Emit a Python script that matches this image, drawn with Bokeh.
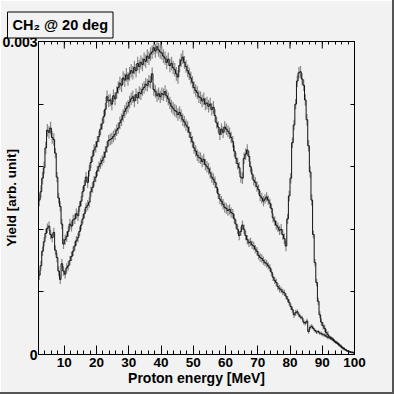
import numpy as np
from bokeh.plotting import figure
from bokeh.models import LinearAxis, FixedTicker
from bokeh.embed import file_html
from bokeh.resources import INLINE

# ---------------- data (yield in units of 1e-6, 0.5 MeV bins from 2 to 100 MeV) -------------
bin_lo = 2.0
bin_width = 0.5

upper_yield = [
    1480, 1560, 1690, 1790, 1980, 2150, 2130, 2170, 2080, 2060,   #  2 -  7
    1930, 1700, 1500, 1420, 1250, 1060, 1100, 1130, 1180, 1250,   #  7 - 12
    1230, 1290, 1300, 1350, 1330, 1420, 1470, 1560, 1620, 1700,   # 12 - 17
    1650, 1760, 1840, 1900, 1960, 1990, 2040, 2090, 2160, 2210,   # 17 - 22
    2280, 2350, 2470, 2430, 2440, 2400, 2480, 2450, 2510, 2560,   # 22 - 27
    2600, 2580, 2650, 2630, 2680, 2640, 2690, 2720, 2700, 2750,   # 27 - 32
    2720, 2790, 2760, 2800, 2780, 2830, 2810, 2860, 2840, 2880,   # 32 - 37
    2900, 2940, 2910, 2950, 2920, 2900, 2890, 2860, 2840, 2800,   # 37 - 42
    2830, 2770, 2790, 2750, 2730, 2690, 2660, 2770, 2820, 2850,   # 42 - 47
    2800, 2760, 2720, 2690, 2650, 2610, 2560, 2530, 2510, 2470,   # 47 - 52
    2460, 2430, 2450, 2400, 2410, 2380, 2400, 2350, 2370, 2290,   # 52 - 57
    2220, 2180, 2110, 2160, 2130, 2180, 2160, 2140, 2120, 2080,   # 57 - 62
    2040, 1950, 1880, 1830, 1790, 1700, 1690, 1880, 1920, 1960,   # 62 - 67
    1900, 1800, 1730, 1670, 1650, 1610, 1580, 1520, 1500, 1470,   # 67 - 72
    1490, 1510, 1480, 1450, 1400, 1310, 1280, 1240, 1220, 1190,   # 72 - 77
    1200, 1150, 1110, 1040, 1300, 1520, 1690, 2030, 2200, 2400,   # 77 - 82
    2620, 2700, 2710, 2640, 2580, 2440, 2250, 2000, 1750, 1480,   # 82 - 87
    1150, 880, 690, 510, 380, 310, 275, 250, 210, 190,            # 87 - 92
    170, 160, 150, 130, 120, 110, 95, 80, 65, 55,                 # 92 - 97
    45, 35, 30, 25, 22, 20,                                       # 97 - 100
]

lower_yield = [
    760, 850, 990, 1080, 1160, 1210, 1230, 1150, 1120, 1170,
    1000, 930, 800, 720, 870, 800, 770, 830, 850, 900,
    940, 990, 1040, 1090, 1120, 1180, 1240, 1300, 1350, 1410,
    1430, 1460, 1560, 1600, 1660, 1700, 1760, 1800, 1830, 1860,
    1890, 1940, 1990, 2050, 2060, 2070, 2090, 2110, 2150, 2170,
    2220, 2250, 2290, 2330, 2360, 2380, 2420, 2450, 2470, 2430,
    2490, 2460, 2510, 2500, 2540, 2560, 2590, 2580, 2620, 2610,
    2690, 2540, 2520, 2480, 2500, 2470, 2500, 2490, 2520, 2480,
    2450, 2410, 2380, 2360, 2340, 2330, 2300, 2320, 2290, 2250,
    2230, 2200, 2180, 2130, 2080, 2040, 1980, 1950, 1910, 1890,
    1880, 1850, 1870, 1820, 1800, 1780, 1740, 1700, 1680, 1650,
    1600, 1540, 1490, 1470, 1440, 1410, 1400, 1380, 1390, 1360,
    1350, 1300, 1250, 1200, 1140, 1180, 1240, 1200, 1140, 1100,
    1070, 1080, 1050, 1040, 1010, 990, 950, 930, 920, 900,
    880, 870, 850, 830, 790, 740, 710, 690, 650, 630,
    620, 600, 590, 560, 530, 500, 460, 430, 380, 400,
    410, 380, 360, 350, 310, 300, 320, 220, 260, 270,
    250, 230, 215, 220, 205, 200, 190, 185, 175, 165,
    160, 150, 140, 130, 115, 105, 90, 80, 65, 55,
    45, 35, 28, 22, 18, 15,
]

# statistical error estimate per 5 MeV block (same units)
upper_err_block = [60, 50, 50, 55, 60, 65, 65, 65, 65, 60, 60, 55, 55, 50, 45, 50, 55, 35, 15, 8]
lower_err_block = [45, 45, 45, 50, 55, 60, 60, 60, 60, 55, 55, 50, 45, 40, 35, 30, 22, 18, 14, 8]

x_ticks = [10, 20, 30, 40, 50, 60, 70, 80, 90, 100]
x_tick_labels = ["10", "20", "30", "40", "50", "60", "70", "80", "90", "100"]
x_minor_ticks = [2, 4, 6, 8, 12, 14, 16, 18, 22, 24, 26, 28, 32, 34, 36, 38, 42, 44, 46, 48,
                 52, 54, 56, 58, 62, 64, 66, 68, 72, 74, 76, 78, 82, 84, 86, 88, 92, 94, 96, 98]
y_label_ticks = [0.0, 0.003]
y_tick_labels = ["0", "0.003"]
y_other_ticks = [0.0006, 0.0012, 0.0018, 0.0024]

title_text = "CH\u2082 @ 20 deg"
x_title = "Proton energy [MeV]"
y_title = "Yield [arb. unit]"

assert len(upper_yield) == len(lower_yield) == 196

# ---------------- derived arrays ----------------
n = len(upper_yield)
edges = bin_lo + bin_width * np.arange(n + 1)
centers = bin_lo + bin_width * (np.arange(n) + 0.5)
U = np.array(upper_yield, dtype=float) * 1e-6
L = np.array(lower_yield, dtype=float) * 1e-6
eU = np.array([upper_err_block[i // 10] for i in range(n)], dtype=float) * 1e-6
eL = np.array([lower_err_block[i // 10] for i in range(n)], dtype=float) * 1e-6


def stairs(vals):
    xs = np.repeat(edges, 2)[1:-1]
    ys = np.repeat(vals, 2)
    return xs, ys


# ---------------- figure ----------------
FL, FR, FT, FB = 38, 354, 41, 354
XMIN, XMAX, YMIN, YMAX = 2.0, 100.0, 0.0, 0.003
FONT = "Liberation Sans"

p = figure(width=394, height=394, x_range=(XMIN, XMAX), y_range=(YMIN, YMAX),
           x_axis_location=None, y_axis_location=None, toolbar_location=None,
           output_backend="svg", title=title_text,
           min_border_left=FL, min_border_right=394 - FR,
           min_border_top=FT, min_border_bottom=394 - FB,
           background_fill_color="#f2f2f2", border_fill_color=None,
           outline_line_color="black", outline_line_width=1)
p.grid.visible = False
p.styles = {"position": "absolute", "left": "0px", "top": "0px",
            "background-color": "#f2f2f2",
            "box-shadow": "inset -2px -2px 0 0 #555555, inset 1px 1px 0 0 #ffffff"}

t = p.title
t.align = "left"
t.offset = -31
t.text_font = FONT
t.text_font_style = "bold"
t.text_font_size = "14.5px"
t.text_color = "black"
t.background_fill_color = "#f2f2f2"
t.border_line_color = "black"
t.border_line_width = 1
t.padding = 5
t.standoff = 7

# bottom axis with labels
xb = LinearAxis(ticker=FixedTicker(ticks=x_ticks, minor_ticks=x_minor_ticks),
                major_label_overrides={v: s for v, s in zip(x_ticks, x_tick_labels)},
                major_tick_in=9, major_tick_out=0, minor_tick_in=4, minor_tick_out=0,
                major_label_standoff=3,
                major_label_text_font=FONT, major_label_text_font_style="bold",
                major_label_text_font_size="13.5px", major_label_text_color="black",
                axis_label=x_title, axis_label_standoff=0,
                axis_label_text_font=FONT, axis_label_text_font_style="bold",
                axis_label_text_font_size="14px", axis_label_text_color="black",
                axis_line_color="black", major_tick_line_color="black",
                minor_tick_line_color="black")
p.add_layout(xb, "below")

# left axis with labels
yl = LinearAxis(ticker=FixedTicker(ticks=y_label_ticks, minor_ticks=y_other_ticks),
                major_label_overrides={v: s for v, s in zip(y_label_ticks, y_tick_labels)},
                major_tick_in=5, major_tick_out=0, minor_tick_in=5, minor_tick_out=0,
                major_label_standoff=1,
                major_label_text_font=FONT, major_label_text_font_style="bold",
                major_label_text_font_size="14px", major_label_text_color="black",
                axis_label=y_title, axis_label_standoff=-20,
                axis_label_text_font=FONT, axis_label_text_font_style="bold",
                axis_label_text_font_size="13.5px", axis_label_text_color="black",
                axis_line_color="black", major_tick_line_color="black",
                minor_tick_line_color="black")
p.add_layout(yl, "left")

# mirrored tick marks (no labels) on top and right
xt = LinearAxis(ticker=FixedTicker(ticks=[], minor_ticks=x_minor_ticks + x_ticks),
                major_tick_in=0, major_tick_out=0, minor_tick_in=3, minor_tick_out=0,
                axis_line_color="black", minor_tick_line_color="black")
p.add_layout(xt, "above")
yr = LinearAxis(ticker=FixedTicker(ticks=[], minor_ticks=y_label_ticks + y_other_ticks),
                major_tick_in=0, major_tick_out=0, minor_tick_in=4, minor_tick_out=0,
                axis_line_color="black", minor_tick_line_color="black")
p.add_layout(yr, "right")
# longer top ticks at the labelled energies
dy_px = (YMAX - YMIN) / (FB - FT)
p.segment(x0=x_ticks, y0=[YMAX] * len(x_ticks), x1=x_ticks, y1=[YMAX - 7 * dy_px] * len(x_ticks),
          line_color="black", line_width=1)

# error bars
p.segment(x0=centers, y0=U - eU, x1=centers, y1=U + eU, line_color="#888888", line_width=1.2)
p.segment(x0=centers, y0=L - eL, x1=centers, y1=L + eL, line_color="#888888", line_width=1.2)
# histogram lines
xs, ys = stairs(U)
p.line(xs, ys, line_color="#141414", line_width=1)
xs, ys = stairs(L)
p.line(xs, ys, line_color="#141414", line_width=1)

open("out.html", "w").write(file_html(p, INLINE))
